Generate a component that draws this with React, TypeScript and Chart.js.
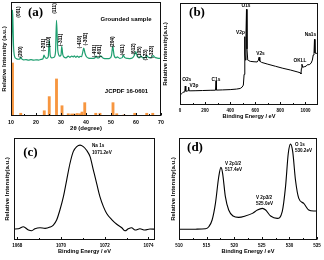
import React, { useEffect, useRef } from 'react';
import { Chart, registerables } from 'chart.js';
Chart.register(...registerables);

// ---------- Panel (a): XRD ----------
const XRD_2THETA = [10.2, 10.45, 10.6, 10.75, 11.0, 11.4, 12, 13, 13.6, 13.9, 14.2, 15, 16, 17, 18, 19, 20, 21, 22, 22.8, 23.2, 23.6, 24.2, 24.9, 25.3, 25.7, 26.3, 27.2, 27.8, 28.2, 28.7, 29.5, 30.0, 30.3, 30.7, 31.3, 32, 32.9, 33.5, 34.3, 35, 35.3, 36, 36.5, 37.2, 37.6, 38.2, 38.6, 39.1, 39.6, 40.2, 41, 42, 43, 43.6, 44.0, 44.5, 45.2, 45.8, 46.3, 46.8, 47.5, 48.5, 49.5, 50.2, 50.7, 51.2, 52, 52.5, 53.5, 54.5, 54.9, 55.4, 56.5, 57.5, 58.5, 59.3, 59.9, 60.5, 61.3, 62.0, 62.6, 63.5, 64.3, 65, 65.8, 66.4, 66.9, 67.5, 68.5, 69.3, 70];
const XRD_INT = [56, 80, 93, 85, 62, 52.5, 50.5, 49.8, 50.2, 51.5, 50.3, 49.2, 49.5, 49, 49.4, 49, 49.3, 49.1, 49.6, 50.2, 53.5, 51.5, 50.5, 52, 66.5, 53, 51, 51.5, 56, 84, 58, 52.5, 53.5, 61, 54, 51.5, 51, 52.5, 51.5, 52.5, 51.8, 52.8, 51.5, 52.5, 51.5, 52.3, 52, 55, 59.5, 55, 52, 50.8, 50.5, 50.6, 51, 52.5, 51, 51, 52.8, 52, 50.8, 50.4, 50.4, 50.6, 53, 61, 53.5, 51, 51.8, 50.6, 51.2, 53.5, 51.5, 50.5, 50.4, 50.8, 53, 56.5, 52.5, 51, 52.5, 51.2, 51, 53, 51.3, 51, 52, 53, 51.5, 50.8, 50.5, 50.7];
const REF_2THETA = [10.6, 13.9, 23.3, 25.3, 28.2, 30.4, 32.9, 34.3, 35.3, 36.5, 37.6, 38.4, 39.5, 43.9, 45.6, 50.8, 52.3, 55.2, 59.5, 64.3, 66.7];
const REF_INT = [46.5, 2.4, 4.6, 17, 32.5, 9, 2, 1.8, 1.8, 2.2, 2, 3.5, 11.7, 2.4, 2.4, 11.7, 2, 1, 2.4, 2.4, 2.4];
const HKL_LABELS = ['(001)', '(200)', '(-201)', '(110)', '(111)', '(-311)', '(-410)', '(-302)', '(-401)', '(-601)', '(204)', '(411)', '(612)', '(105)', '(123)', '(-323)'];
const HKL_X = [12.9, 14.0, 22.9, 25.2, 27.6, 29.8, 37.6, 39.8, 43.6, 45.6, 50.6, 54.8, 59.2, 61.6, 63.7, 66.4];
const HKL_Y = [91.2, 56.1, 62.3, 64.9, 94.3, 66.7, 64.9, 67.5, 57, 57, 64.9, 57.9, 58.8, 56.1, 53.5, 56.1];
const XRD_TICKS = [10, 20, 30, 40, 50, 60, 70];

// ---------- Panel (b): XPS survey ----------
const SURVEY_BE = [0, 8, 16, 24, 32, 38, 42, 46, 52, 60, 66, 69, 72, 80, 120, 180, 240, 283, 287, 291, 340, 400, 450, 480, 495, 505, 511, 515, 518, 522, 526, 530, 534, 540, 548, 560, 590, 615, 625, 630, 636, 650, 700, 760, 820, 880, 940, 960, 964, 968, 972, 978, 990, 1005, 1015, 1030, 1045, 1055, 1062, 1068, 1072, 1076, 1085, 1100];
const SURVEY_INT = [9, 10.5, 11.5, 12.5, 12.8, 13, 18.6, 13.6, 13.4, 13.8, 14, 17.5, 14, 13.9, 14, 14.2, 14.4, 14.5, 23.5, 14.6, 14.8, 15.1, 15.6, 16.2, 17.5, 19.5, 30, 67, 50, 44, 70, 93.8, 55, 44, 43.5, 42.8, 42.4, 42.2, 44, 46.8, 43, 41.8, 40, 38, 36, 34.3, 32.3, 31.5, 30.5, 36, 40, 37, 37.5, 38, 39.5, 39.5, 41, 44, 49, 50.5, 64.4, 51, 50.6, 50.8];
const SURVEY_TICKS = [0, 200, 400, 600, 800, 1000];

// ---------- Panel (c): Na 1s ----------
const NA_BE = [1067.85, 1068.05, 1068.28, 1068.51, 1068.66, 1068.81, 1069.04, 1069.27, 1069.5, 1069.65, 1069.8, 1069.95, 1070.11, 1070.26, 1070.41, 1070.56, 1070.72, 1070.87, 1071.02, 1071.17, 1071.33, 1071.48, 1071.63, 1071.78, 1071.94, 1072.09, 1072.32, 1072.55, 1072.78, 1072.93, 1073.08, 1073.23, 1073.39, 1073.61, 1073.84, 1074.07, 1074.3];
const NA_INT = [10.8, 11, 13, 9.8, 9.1, 11, 12, 11.4, 12.7, 14.7, 19.6, 29.4, 42.5, 58.8, 75, 86.6, 91.5, 93, 91.5, 88, 81.7, 68.6, 55.5, 42.5, 32.7, 26, 20, 15.4, 12, 9, 11, 12, 9.8, 11, 9.8, 10.8, 10.5];
const NA_TICKS = [1068, 1070, 1072, 1074];

// ---------- Panel (d): V 2p / O 1s ----------
const V_BE = [510, 512, 513, 514.8, 515.4, 516.0, 516.6, 517.2, 517.6, 517.9, 518.4, 519.0, 519.8, 520.8, 522.0, 523.3, 524.2, 525.1, 525.7, 526.6, 527.8, 528.7, 529.3, 529.8, 530.2, 530.6, 531.1, 531.7, 532.6, 533.5, 534.4, 535];
const V_INT = [10.5, 10.5, 10.6, 11.1, 13, 19.6, 35.9, 62, 71.2, 65.4, 42.5, 29.4, 23.5, 22.2, 23.5, 26.1, 29.4, 31, 29.4, 23.5, 21.2, 27.8, 52.3, 85, 94, 86.6, 58.8, 40.8, 35.9, 29.4, 28.4, 28.4];
const V_TICKS = [510, 515, 520, 525, 530, 535];

const SANS = '"Liberation Sans", Arial, Helvetica, sans-serif';
const SERIF = '"Liberation Serif", "Times New Roman", serif';
const GREEN = '#1f9f70';
const ORANGE = '#f7963f';

type Note = { t: string; x: number; y: number; size: number; serif?: boolean; rot?: boolean; align?: CanvasTextAlign };

const pts = (xs: number[], ys: number[]) => xs.map((x, i) => ({ x, y: ys[i] }));

function notesPlugin(notes: Note[]) {
  return {
    id: 'notes',
    afterDatasetsDraw(chart: any) {
      const { ctx, scales } = chart;
      ctx.save();
      ctx.fillStyle = '#000';
      for (const n of notes) {
        const px = scales.x.getPixelForValue(n.x);
        const py = scales.y.getPixelForValue(n.y);
        ctx.font = `bold ${n.size}px ${n.serif ? SERIF : SANS}`;
        ctx.textAlign = n.align || 'center';
        ctx.textBaseline = 'middle';
        if (n.rot) {
          ctx.save();
          ctx.translate(px, py);
          ctx.rotate(-Math.PI / 2);
          ctx.fillText(n.t, 0, 0);
          ctx.restore();
        } else {
          ctx.fillText(n.t, px, py);
        }
      }
      ctx.restore();
    },
  };
}

const framePlugin = {
  id: 'frame',
  afterDraw(chart: any) {
    const { ctx, chartArea: a, scales } = chart;
    const l = Math.round(a.left) + 0.5;
    const t = Math.round(a.top) + 0.5;
    const r = Math.round(a.right) - 0.5;
    const b = Math.round(a.bottom) - 0.5;
    ctx.save();
    ctx.strokeStyle = '#111';
    ctx.lineWidth = 1;
    ctx.strokeRect(l, t, r - l, b - t);
    const ticks = scales.x.ticks.map((tk: any) => tk.value);
    ctx.beginPath();
    ticks.forEach((v: number, i: number) => {
      const px = Math.round(scales.x.getPixelForValue(v)) + 0.5;
      ctx.moveTo(px, b);
      ctx.lineTo(px, b - 2.5);
      if (i < ticks.length - 1) {
        const mx = Math.round(scales.x.getPixelForValue((v + ticks[i + 1]) / 2)) + 0.5;
        ctx.moveTo(mx, b);
        ctx.lineTo(mx, b - 1.5);
      }
    });
    ctx.stroke();
    ctx.restore();
  },
};

type Panel = {
  l: number; t: number; r: number; b: number;
  yW: number; xH: number;
  xMin: number; xMax: number; xTicks: number[];
  tickSize: number; tickPad: number;
  xTitle: string; xTitleSize: number;
  yTitle: string; yTitleSize: number;
  datasets: any[];
  notes: Note[];
};

function buildConfig(p: Panel): any {
  return {
    type: 'line',
    data: { datasets: p.datasets },
    options: {
      responsive: false,
      animation: false,
      devicePixelRatio: 1,
      events: [],
      layout: { padding: { left: p.l - p.yW, top: p.t, right: 324 - p.r, bottom: 260 - p.b - p.xH } },
      plugins: { legend: { display: false }, tooltip: { enabled: false } },
      scales: {
        x: {
          type: 'linear',
          min: p.xMin,
          max: p.xMax,
          offset: false,
          grid: { display: false, drawTicks: false },
          border: { display: false },
          ticks: {
            autoSkip: false,
            maxRotation: 0,
            minRotation: 0,
            padding: p.tickPad,
            color: '#000',
            font: { size: p.tickSize, weight: 'bold', family: SANS },
            callback: (v: any) => String(v),
          },
          afterBuildTicks: (s: any) => {
            s.ticks = p.xTicks.map((v) => ({ value: v }));
          },
          afterFit: (s: any) => {
            s.height = p.xH;
          },
          title: {
            display: true,
            text: p.xTitle,
            color: '#000',
            padding: 0,
            font: { size: p.xTitleSize, weight: 'bold', family: SANS },
          },
        },
        y: {
          type: 'linear',
          min: 0,
          max: 100,
          grid: { display: false, drawTicks: false },
          border: { display: false },
          ticks: { display: false },
          afterFit: (s: any) => {
            s.width = p.yW;
          },
          title: {
            display: true,
            text: p.yTitle,
            color: '#000',
            padding: 0,
            font: { size: p.yTitleSize, weight: 'bold', family: SANS },
          },
        },
      },
    },
    plugins: [framePlugin, notesPlugin(p.notes)],
  };
}

const lineDs = (data: any[], color: string, width: number, smooth: boolean) => ({
  type: 'line',
  data,
  borderColor: color,
  borderWidth: width,
  pointRadius: 0,
  fill: false,
  tension: smooth ? 0.4 : 0,
  cubicInterpolationMode: smooth ? 'monotone' : 'default',
});

const PANELS: Panel[] = [
  {
    l: 11, t: 2, r: 161, b: 116, yW: 10.6, xH: 15.6,
    xMin: 10, xMax: 70, xTicks: XRD_TICKS, tickSize: 5.2, tickPad: 3,
    xTitle: '2θ (degree)', xTitleSize: 6,
    yTitle: 'Relative Intensity (a.u.)', yTitleSize: 6,
    datasets: [
      lineDs(pts(XRD_2THETA, XRD_INT), GREEN, 1.2, true),
      { type: 'bar', data: pts(REF_2THETA, REF_INT), backgroundColor: ORANGE, borderWidth: 0, barThickness: 2.2, grouped: false },
    ],
    notes: [
      { t: '(a)', x: 19.8, y: 90.4, size: 13, serif: true },
      { t: 'Grounded sample', x: 56, y: 85, size: 6 },
      { t: 'JCPDF 16-0601', x: 56.2, y: 21.9, size: 6 },
      ...HKL_LABELS.map((t, i) => ({ t, x: HKL_X[i], y: HKL_Y[i], size: 4.8, rot: true })),
    ],
  },
  {
    l: 180, t: 3, r: 318, b: 105, yW: 18.2, xH: 14.4,
    xMin: 0, xMax: 1100, xTicks: SURVEY_TICKS, tickSize: 4.5, tickPad: 3,
    xTitle: 'Binding Energy / eV', xTitleSize: 5.6,
    yTitle: 'Relative Intensity(a.u.)', yTitleSize: 6,
    datasets: [lineDs(pts(SURVEY_BE, SURVEY_INT), '#000', 1, false)],
    notes: [
      { t: '(b)', x: 135.5, y: 90.2, size: 13, serif: true },
      { t: 'O1s', x: 526, y: 97.3, size: 4.8 },
      { t: 'V2p', x: 482, y: 71.1, size: 4.8 },
      { t: 'V2s', x: 641.7, y: 50, size: 4.8 },
      { t: 'OKLL', x: 956.6, y: 43.1, size: 4.8 },
      { t: 'Na1s', x: 1040, y: 69.1, size: 4.8 },
      { t: 'C1s', x: 287, y: 24.5, size: 4.8 },
      { t: 'O2s', x: 53.4, y: 24.5, size: 4.8 },
      { t: 'V3p', x: 111.6, y: 18.6, size: 4.8 },
    ],
  },
  {
    l: 14, t: 138, r: 155, b: 240, yW: 10.6, xH: 14.4,
    xMin: 1067.85, xMax: 1074.3, xTicks: NA_TICKS, tickSize: 4.5, tickPad: 3,
    xTitle: 'Binding Energy / eV', xTitleSize: 5.6,
    yTitle: 'Relative Intensity(a.u.)', yTitleSize: 6,
    datasets: [lineDs(pts(NA_BE, NA_INT), '#000', 1.1, true)],
    notes: [
      { t: '(c)', x: 1068.6, y: 85.8, size: 13, serif: true },
      { t: 'Na 1s', x: 1071.42, y: 92.6, size: 4.6, align: 'left' },
      { t: '1071.2eV', x: 1071.42, y: 85.8, size: 4.6, align: 'left' },
    ],
  },
  {
    l: 179, t: 138, r: 317, b: 240, yW: 8.9, xH: 14.4,
    xMin: 510, xMax: 535, xTicks: V_TICKS, tickSize: 4.5, tickPad: 3,
    xTitle: 'Binding Energy / eV', xTitleSize: 5.6,
    yTitle: 'Relative Intensity(a.u.)', yTitleSize: 6,
    datasets: [lineDs(pts(V_BE, V_INT), '#000', 1.1, true)],
    notes: [
      { t: '(d)', x: 512.9, y: 90.7, size: 13, serif: true },
      { t: 'V 2p1/2', x: 518.33, y: 74.5, size: 4.6, align: 'left' },
      { t: '517.4eV', x: 518.33, y: 68.6, size: 4.6, align: 'left' },
      { t: 'V 2p3/2', x: 523.95, y: 41.2, size: 4.6, align: 'left' },
      { t: '525.0eV', x: 523.95, y: 35.3, size: 4.6, align: 'left' },
      { t: 'O 1s', x: 531.0, y: 93.6, size: 4.6, align: 'left' },
      { t: '530.2eV', x: 531.0, y: 87.3, size: 4.6, align: 'left' },
    ],
  },
];

export default function App() {
  const canvases = useRef<(HTMLCanvasElement | null)[]>([]);
  useEffect(() => {
    const charts = PANELS.map((p, i) => new Chart(canvases.current[i] as HTMLCanvasElement, buildConfig(p)));
    return () => charts.forEach((c) => c.destroy());
  }, []);
  return (
    <div style={{ position: 'absolute', left: 0, top: 0, width: 324, height: 260, background: '#fff', overflow: 'hidden' }}>
      {PANELS.map((_, i) => (
        <canvas
          key={i}
          ref={(el) => { canvases.current[i] = el; }}
          width={324}
          height={260}
          style={{ position: 'absolute', left: 0, top: 0, width: 324, height: 260 }}
        />
      ))}
    </div>
  );
}
